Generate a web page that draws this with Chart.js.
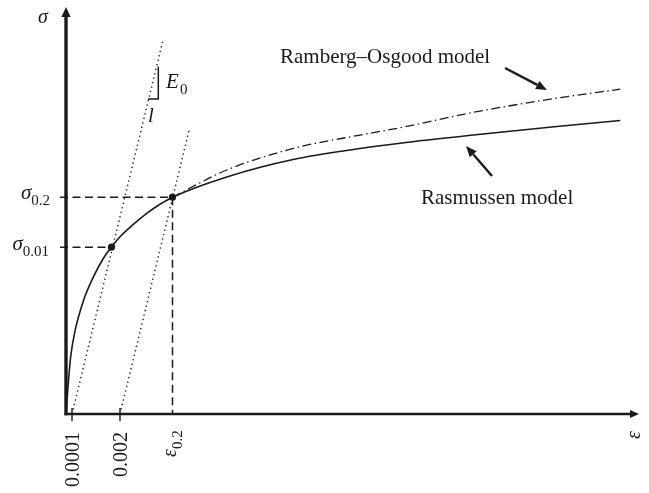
<!DOCTYPE html>
<html>
<head>
<meta charset="utf-8">
<script src="https://cdn.jsdelivr.net/npm/chart.js@4/dist/chart.umd.min.js"></script>
<style>
  html, body { margin: 0; padding: 0; background: #fff; }
  #wrap { width: 649px; height: 493px; position: relative; }
</style>
</head>
<body>
<div id="wrap"><canvas id="myChart"></canvas></div>
<script>
// plot units: both axes run 0..10 (schematic, no real scale)
const rasStrain = [0, 0.017, 0.040, 0.079, 0.157, 0.302, 0.477, 0.652, 0.795, 0.944, 1.177, 1.411, 1.643, 1.862, 2.81, 3.97, 5.14, 5.84, 7.12, 8.58, 9.69];
const rasStress = [0, 0.34, 0.76, 1.38, 2.04, 2.78, 3.37, 3.83, 4.11, 4.365, 4.67, 4.94, 5.165, 5.34, 5.84, 6.27, 6.54, 6.67, 6.87, 7.08, 7.23];

const roStrain = [1.862, 2.81, 3.97, 5.14, 5.84, 7.12, 8.58, 9.69];
const roStress = [5.34, 6.01, 6.54, 6.87, 7.05, 7.43, 7.78, 8.00];

// elastic line (E0) and 0.2% offset line
const e0Strain = [0.105, 1.696];
const e0Stress = [0, 9.21];
const offStrain = [0.944, 2.16];
const offStress = [0, 7.04];

const eps02 = 1.862, sig02 = 5.34;
const eps001 = 0.795, sig001 = 4.11;

const tickStrain = [0.105, 0.944];
const tickLabels = ['0.0001', '0.002'];

const toXY = (xs, ys) => xs.map((x, i) => ({ x: x, y: ys[i] }));

const SERIF = '"Liberation Serif", "DejaVu Serif", serif';
const INK = '#1a1a1a';

function arrow(ctx, x1, y1, x2, y2, len, half) {
    const a = Math.atan2(y2 - y1, x2 - x1);
    const bx = x2 - len * Math.cos(a), by = y2 - len * Math.sin(a);
    ctx.beginPath();
    ctx.moveTo(x1, y1);
    ctx.lineTo(bx, by);
    ctx.stroke();
    ctx.beginPath();
    ctx.moveTo(x2, y2);
    ctx.lineTo(bx + half * Math.sin(a), by - half * Math.cos(a));
    ctx.lineTo(bx - half * Math.sin(a), by + half * Math.cos(a));
    ctx.closePath();
    ctx.fill();
}

// main text + subscript, right aligned at x
function subRight(ctx, x, y, main, sub, mainFont, subFont, dy) {
    ctx.font = subFont;
    const ws = ctx.measureText(sub).width;
    ctx.font = mainFont;
    const wm = ctx.measureText(main).width;
    ctx.textAlign = 'left';
    ctx.fillText(main, x - ws - wm, y);
    ctx.font = subFont;
    ctx.fillText(sub, x - ws, y + dy);
}

const decor = {
    id: 'decor',
    afterDatasetsDraw(chart) {
        const ctx = chart.ctx;
        const X = v => chart.scales.x.getPixelForValue(v);
        const Y = v => chart.scales.y.getPixelForValue(v);
        const x0 = X(0), y0 = Y(0);
        ctx.save();
        ctx.fillStyle = INK;
        ctx.strokeStyle = INK;
        ctx.textBaseline = 'alphabetic';

        // axes with arrows
        ctx.lineWidth = 3.4;
        ctx.beginPath();
        ctx.moveTo(x0, y0 + 1.2);
        ctx.lineTo(x0, Y(10) + 6);
        ctx.stroke();
        ctx.beginPath();
        ctx.moveTo(x0, Y(10) - 1);
        ctx.lineTo(x0 - 4.6, Y(10) + 9);
        ctx.lineTo(x0 + 4.6, Y(10) + 9);
        ctx.closePath();
        ctx.fill();

        ctx.lineWidth = 2.5;
        ctx.beginPath();
        ctx.moveTo(x0 - 1.5, y0);
        ctx.lineTo(X(10) - 6, y0);
        ctx.stroke();
        ctx.beginPath();
        ctx.moveTo(X(10) + 1, y0);
        ctx.lineTo(X(10) - 8, y0 - 4);
        ctx.lineTo(X(10) - 8, y0 + 4);
        ctx.closePath();
        ctx.fill();

        // small ticks on the strain axis
        ctx.lineWidth = 1.4;
        tickStrain.forEach(v => {
            ctx.beginPath();
            ctx.moveTo(X(v), y0 - 6);
            ctx.lineTo(X(v), y0 + 7);
            ctx.stroke();
        });

        // rotated tick labels
        ctx.font = '20px ' + SERIF;
        tickStrain.forEach((v, i) => {
            ctx.save();
            ctx.translate(X(v) + 7, y0 + 18);
            ctx.rotate(-Math.PI / 2);
            ctx.textAlign = 'right';
            ctx.fillText(tickLabels[i], 0, 0);
            ctx.restore();
        });
        ctx.save();
        ctx.translate(X(eps02) + 3, y0 + 43);
        ctx.rotate(-Math.PI / 2);
        ctx.textAlign = 'left';
        ctx.font = 'italic 20px ' + SERIF;
        ctx.fillText('ε', 0, 0);
        const we = ctx.measureText('ε').width;
        ctx.font = '15px ' + SERIF;
        ctx.fillText('0.2', we, 6);
        ctx.restore();

        // axis names
        ctx.font = 'italic 20px ' + SERIF;
        ctx.textAlign = 'left';
        ctx.fillText('σ', 38, 23);
        ctx.save();
        ctx.translate(X(10) + 2, y0 + 21);
        ctx.rotate(-Math.PI / 2);
        ctx.textAlign = 'center';
        ctx.fillText('ε', 0, 0);
        ctx.restore();

        // stress labels
        subRight(ctx, 50, Y(sig02) + 2, 'σ', '0.2', 'italic 21px ' + SERIF, '15px ' + SERIF, 6);
        subRight(ctx, 49, Y(sig001) + 3, 'σ', '0.01', 'italic 21px ' + SERIF, '15px ' + SERIF, 6);

        // E0 slope bracket
        ctx.lineWidth = 1.5;
        ctx.beginPath();
        ctx.moveTo(158.3, 66.5);
        ctx.lineTo(158.3, 99);
        ctx.lineTo(148, 99);
        ctx.stroke();
        ctx.font = 'italic 21px ' + SERIF;
        ctx.textAlign = 'left';
        ctx.fillText('E', 166, 88);
        ctx.font = '15px ' + SERIF;
        ctx.fillText('0', 180, 94);
        ctx.font = 'italic 21px ' + SERIF;
        ctx.fillText('l', 148, 122);

        // model annotations
        ctx.font = '21px ' + SERIF;
        ctx.textAlign = 'left';
        ctx.fillText('Ramberg–Osgood model', 280, 63);
        ctx.fillText('Rasmussen model', 421, 204);
        ctx.lineWidth = 2.4;
        arrow(ctx, 505, 68, 547, 90, 11, 4.5);
        arrow(ctx, 492, 176, 466, 146, 11, 4.5);

        ctx.restore();
    }
};

const thin = { pointRadius: 0, fill: false, showLine: true };

const ctxEl = document.getElementById('myChart').getContext('2d');
const myChart = new Chart(ctxEl, {
    type: 'scatter',
    data: {
        datasets: [
            Object.assign({
                label: 'Rasmussen model',
                data: toXY(rasStrain, rasStress),
                borderColor: INK,
                borderWidth: 1.6,
                cubicInterpolationMode: 'monotone'
            }, thin),
            Object.assign({
                label: 'Ramberg–Osgood model',
                data: toXY(roStrain, roStress),
                borderColor: INK,
                borderWidth: 1.3,
                borderDash: [9, 3.5, 1.5, 3.5],
                cubicInterpolationMode: 'monotone'
            }, thin),
            Object.assign({
                label: 'E0',
                data: toXY(e0Strain, e0Stress),
                borderColor: '#222',
                borderWidth: 1.5,
                borderDash: [1.3, 3.3]
            }, thin),
            Object.assign({
                label: 'offset',
                data: toXY(offStrain, offStress),
                borderColor: '#222',
                borderWidth: 1.5,
                borderDash: [1.3, 3.3]
            }, thin),
            Object.assign({
                label: 'sigma 0.2',
                data: [{ x: -0.105, y: sig02 }, { x: eps02, y: sig02 }, { x: eps02, y: 0 }],
                borderColor: INK,
                borderWidth: 1.5,
                borderDash: [8, 4.5],
                clip: false
            }, thin),
            Object.assign({
                label: 'sigma 0.01',
                data: [{ x: -0.105, y: sig001 }, { x: eps001, y: sig001 }],
                borderColor: INK,
                borderWidth: 1.5,
                borderDash: [8, 4.5],
                clip: false
            }, thin),
            {
                label: 'points',
                data: [{ x: eps001, y: sig001 }, { x: eps02, y: sig02 }],
                pointRadius: 3.6,
                pointBackgroundColor: INK,
                pointBorderWidth: 0,
                showLine: false
            }
        ]
    },
    options: {
        responsive: true,
        maintainAspectRatio: false,
        animation: false,
        layout: { padding: { left: 66, top: 8, right: 11, bottom: 79 } },
        scales: {
            x: { type: 'linear', min: 0, max: 10, display: false },
            y: { type: 'linear', min: 0, max: 10, display: false }
        },
        plugins: {
            legend: { display: false },
            tooltip: { enabled: false }
        }
    },
    plugins: [decor]
});
</script>
</body>
</html>
